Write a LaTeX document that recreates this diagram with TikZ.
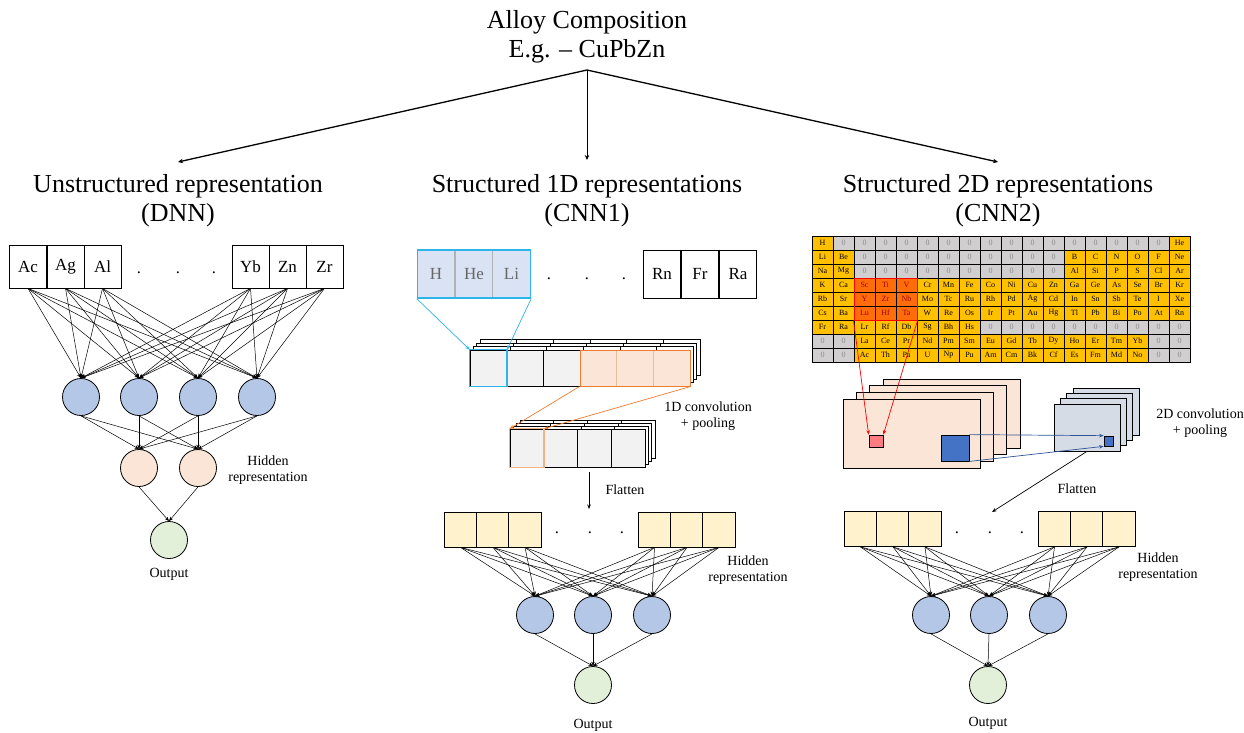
\documentclass[tikz,border=0pt]{standalone}
\usepackage{fontspec}
\setmainfont{Liberation Serif}
\usetikzlibrary{arrows.meta}
\definecolor{nblue}{HTML}{B4C7E7}
\definecolor{npeach}{HTML}{FBE5D6}
\definecolor{ngreen}{HTML}{E2F0D9}
\definecolor{nyel}{HTML}{FFF2CC}
\definecolor{cgray}{HTML}{F2F2F2}
\definecolor{ccyan}{HTML}{2FB4EA}
\definecolor{cyanfill}{HTML}{DAE3F3}
\definecolor{corange}{HTML}{ED7D31}
\definecolor{lorange}{HTML}{F4B183}
\definecolor{ptyel}{HTML}{FFC000}
\definecolor{ptgray}{HTML}{D0CECE}
\definecolor{pthl}{HTML}{FF6D0A}
\definecolor{fmblue}{HTML}{D6DCE5}
\definecolor{sqblue}{HTML}{4472C4}
\definecolor{sqred}{HTML}{FF7C80}
\definecolor{arrblue}{HTML}{2F5597}
\def\zerostr{0}
\begin{document}
\begin{tikzpicture}[x=1pt,y=-1pt,
  big/.style={font=\fontsize{26}{31}\selectfont, inner sep=0},
  mid/.style={font=\fontsize{14}{16.5}\selectfont, align=center, inner sep=0},
  elbox/.style={draw, line width=0.8pt, minimum width=37pt, minimum height=43pt, inner sep=0, font=\fontsize{17}{18}\selectfont},
  inbox/.style={draw, line width=0.8pt, minimum width=37.5pt, minimum height=48pt, inner sep=0, font=\fontsize{17}{18}\selectfont},
  neuron/.style={circle, draw, line width=0.8pt, minimum size=37pt, inner sep=0},
  link/.style={line width=0.5pt, -{Stealth[length=4.5pt,width=3.5pt]}},
  dotlbl/.style={font=\fontsize{16.5}{18}\selectfont, inner sep=0},
  ycell/.style={draw, fill=nyel, line width=0.8pt, minimum width=32.3pt, minimum height=35pt, inner sep=0},
  bcellA/.style={draw, fill=white, line width=0.6pt, minimum width=36.67pt, minimum height=36pt, inner sep=0},
  bcellB/.style={draw, fill=white, line width=0.6pt, minimum width=33.75pt, minimum height=38pt, inner sep=0},
  ptcell/.style={draw, line width=0.5pt, minimum width=21pt, minimum height=14pt, inner sep=0, font=\fontsize{8}{8}\selectfont},
  fmap/.style={draw, line width=0.7pt, inner sep=0}
]
\useasboundingbox[fill=white] (0,0) rectangle (1244,732);

% ---------------- title and branches
\node[big, anchor=base] (t1) at (587,28) {Alloy Composition};
\node[big, anchor=base] (t2) at (587,57) {E.g. – CuPbZn};
\coordinate (root) at (587,70);
\node[big, anchor=base] (h1a) at (178,192) {Unstructured representation};
\node[big, anchor=base] (h1b) at (178,221) {(DNN)};
\node[big, anchor=base] (h2a) at (587,192) {Structured 1D representations};
\node[big, anchor=base] (h2b) at (587,221) {(CNN1)};
\node[big, anchor=base] (h3a) at (998,192) {Structured 2D representations};
\node[big, anchor=base] (h3b) at (998,221) {(CNN2)};
\coordinate (e1) at (178,162);
\coordinate (e2) at (587,160);
\coordinate (e3) at (998,162);
\draw[line width=1.3pt, -{Stealth[length=5pt,width=4.5pt]}] (root) -- (e1);
\draw[line width=0.9pt, -{Stealth[length=5pt,width=4.5pt]}] (root) -- (e2);
\draw[line width=1.3pt, -{Stealth[length=5pt,width=4.5pt]}] (root) -- (e3);

% ---------------- DNN
\foreach \n/\x/\t in {1/28/Ac,2/65.5/Ag,3/102.5/Al,4/250.5/Yb,5/287.5/Zn,6/324.5/Zr}
  \node[elbox] (d\n) at (\x,266.5) {\t};
\foreach \x in {139,178,214} \node[dotlbl] at (\x,273) {.};
\foreach \n/\x in {1/81,2/139,3/198,4/257}
  \node[neuron, fill=nblue] (dh\n) at (\x,397) {};
\foreach \n/\x in {1/139,2/198}
  \node[neuron, fill=npeach] (dp\n) at (\x,468) {};
\node[neuron, fill=ngreen] (dout) at (169,540) {};
\foreach \i in {1,...,6} \foreach \j in {1,...,4} \draw[link] (d\i.south) -- (dh\j.north);
\foreach \i in {1,...,4} \foreach \j in {1,2} \draw[link] (dh\i.south) -- (dp\j.north);
\foreach \j in {1,2} \draw[link] (dp\j.south) -- (dout.north);
\node[mid] (dhid) at (268,470) {Hidden\\representation};
\node[mid] (doutl) at (169,574) {Output};

% ---------------- CNN1 input
\foreach \n/\x/\t in {1/436/H,2/474/He,3/511.5/Li}
  \node[inbox, draw=gray!60, fill=cyanfill, text=black!60] (ci\n) at (\x,274) {\t};
\node[draw=ccyan, line width=1.4pt, minimum width=113pt, minimum height=48pt, inner sep=0] (hgroup) at (474,274) {};
\foreach \n/\x/\t in {4/662/Rn,5/700/Fr,6/738/Ra}
  \node[inbox] (ci\n) at (\x,274) {\t};
\foreach \x in {549,587,624} \node[dotlbl] at (\x,279) {.};

% stack 1
\foreach \k in {3,2,1}
  \foreach \i in {1,...,6}
    \node[bcellA] at ({470+3.3*\k+36.67*\i-18.33},{368-3.6*\k}) {};
\foreach \i in {1,2,3}
  \node[bcellA, fill=cgray] (s1c\i) at ({470+36.67*\i-18.33},368) {};
\foreach \i in {4,5,6}
  \node[bcellA, fill=npeach, draw=brown!50] (s1c\i) at ({470+36.67*\i-18.33},368) {};
\node[draw=corange, line width=1pt, minimum width=110pt, minimum height=36pt, inner sep=0] (s1o) at (635,368) {};
\draw[ccyan, line width=1.2pt] (s1c1.south west) rectangle (s1c1.north east);

% stack 2
\foreach \k in {3,2,1}
  \foreach \i in {1,...,4}
    \node[bcellB] at ({510+3.3*\k+33.75*\i-16.875},{448-3*\k}) {};
\foreach \i in {1,...,4}
  \node[bcellB, fill=cgray] (s2c\i) at ({510+33.75*\i-16.875},448) {};
\draw[lorange, line width=1.3pt] (s2c1.south west) rectangle (s2c1.north east);

\draw[link, ccyan, line width=0.7pt] (hgroup.south west) -- (s1c1.north west);
\draw[link, ccyan, line width=0.7pt] (hgroup.south east) -- (s1c1.north east);
\draw[link, corange, line width=0.7pt] (s1o.south west) -- (s2c1.north west);
\draw[link, corange, line width=0.7pt] (s1o.south east) -- (s2c1.north east);
\node[mid] (conv1) at (708,416) {1D convolution\\+ pooling};

\coordinate (f1a) at (589,472);
\coordinate (f1b) at (589,509);
\draw[link, line width=0.7pt] (f1a) -- (f1b);
\node[mid] (flat1) at (625,490) {Flatten};

% CNN1 hidden
\foreach \n/\x in {1/460.5,2/493,3/525,4/654.5,5/687,6/719}
  \node[ycell] (cy\n) at (\x,529.5) {};
\foreach \x in {557,590,622} \node[dotlbl] at (\x,533) {.};
\foreach \n/\x in {1/535,2/593,3/652}
  \node[neuron, fill=nblue] (cn\n) at (\x,615) {};
\node[neuron, fill=ngreen] (cout) at (593,685) {};
\foreach \i in {1,...,6} \foreach \j in {1,2,3} \draw[link] (cy\i.south) -- (cn\j.north);
\foreach \j in {1,2,3} \draw[link] (cn\j.south) -- (cout.north);
\node[mid] (chid) at (748,570) {Hidden\\representation};
\node[mid] (coutl) at (593,725) {Output};

% ---------------- CNN2 periodic table
\foreach \rowlist [count=\r] in {
 {H,0,0,0,0,0,0,0,0,0,0,0,0,0,0,0,0,He},
 {Li,Be,0,0,0,0,0,0,0,0,0,0,B,C,N,O,F,Ne},
 {Na,Mg,0,0,0,0,0,0,0,0,0,0,Al,Si,P,S,Cl,Ar},
 {K,Ca,Sc,Ti,V,Cr,Mn,Fe,Co,Ni,Cu,Zn,Ga,Ge,As,Se,Br,Kr},
 {Rb,Sr,Y,Zr,Nb,Mo,Tc,Ru,Rh,Pd,Ag,Cd,In,Sn,Sb,Te,I,Xe},
 {Cs,Ba,Lu,Hf,Ta,W,Re,Os,Ir,Pt,Au,Hg,Tl,Pb,Bi,Po,At,Rn},
 {Fr,Ra,Lr,Rf,Db,Sg,Bh,Hs,0,0,0,0,0,0,0,0,0,0},
 {0,0,La,Ce,Pr,Nd,Pm,Sm,Eu,Gd,Tb,Dy,Ho,Er,Tm,Yb,0,0},
 {0,0,Ac,Th,Pa,U,Np,Pu,Am,Cm,Bk,Cf,Es,Fm,Md,No,0,0}}{
  \foreach \el [count=\c] in \rowlist {
    \edef\tmpa{\el}%
    \def\hl{0}%
    \ifnum\r>3 \ifnum\r<7 \ifnum\c>2 \ifnum\c<6 \def\hl{1}\fi\fi\fi\fi
    \ifx\tmpa\zerostr
      \node[ptcell, fill=ptgray, text=black!45] (pt-\r-\c) at ({822.5+21*(\c-1)},{243+14*(\r-1)}) {0};
    \else
      \ifnum\hl=1
        \node[ptcell, fill=pthl, text=red!60!black] (pt-\r-\c) at ({822.5+21*(\c-1)},{243+14*(\r-1)}) {\el};
      \else
        \node[ptcell, fill=ptyel] (pt-\r-\c) at ({822.5+21*(\c-1)},{243+14*(\r-1)}) {\el};
      \fi
    \fi
  }
}
\node[draw=red, line width=1pt, minimum width=63pt, minimum height=42pt, inner sep=0] (hl) at (885.5,299) {};
\draw[line width=0.8pt] (812,236) rectangle (1190,362);

% feature maps (peach)
\foreach \k in {3,2,1,0}
  \node[fmap, fill=npeach, minimum width=137pt, minimum height=69pt] (pm\k) at ({911.5+13.3*\k},{433.5-6.7*\k}) {};
\node[draw, line width=0.7pt, fill=sqred, minimum width=14pt, minimum height=12pt, inner sep=0] (redsq) at (876,441) {};
\node[draw, line width=0.8pt, fill=sqblue, minimum width=28pt, minimum height=26pt, inner sep=0] (bigsq) at (955,448) {};
% feature maps (blue-grey)
\foreach \k in {3,2,1,0}
  \node[fmap, fill=fmblue, minimum width=66pt, minimum height=47pt] (gm\k) at ({1087+6.3*\k},{427.5-5.3*\k}) {};
\node[draw, line width=0.7pt, fill=sqblue, minimum width=9pt, minimum height=10pt, inner sep=0] (smsq) at (1108.5,441) {};

\draw[link, red, line width=0.7pt] (hl.south west) -- (redsq.north west);
\draw[link, red, line width=0.7pt] (hl.south east) -- (redsq.north east);
\draw[link, arrblue, line width=0.7pt] (bigsq.north east) -- (smsq.north west);
\draw[link, arrblue, line width=0.7pt] (bigsq.south east) -- (smsq.south west);
\node[mid] (conv2) at (1200,423) {2D convolution\\+ pooling};

\coordinate (f2b) at (992,512);
\draw[link, line width=0.7pt] (gm0.south) -- (f2b);
\node[mid] (flat2) at (1077,489) {Flatten};

% CNN2 hidden
\foreach \n/\x in {1/860.5,2/893,3/925,4/1054.5,5/1087,6/1119}
  \node[ycell] (ky\n) at (\x,529) {};
\foreach \x in {957,990,1022} \node[dotlbl] at (\x,533) {.};
\foreach \n/\x in {1/931,2/989,3/1048}
  \node[neuron, fill=nblue] (kn\n) at (\x,615) {};
\node[neuron, fill=ngreen] (kout) at (988,685) {};
\foreach \i in {1,...,6} \foreach \j in {1,2,3} \draw[link] (ky\i.south) -- (kn\j.north);
\foreach \j in {1,2,3} \draw[link] (kn\j.south) -- (kout.north);
\node[mid] (khid) at (1158,567) {Hidden\\representation};
\node[mid] (koutl) at (988,723) {Output};
\end{tikzpicture}
\end{document}
